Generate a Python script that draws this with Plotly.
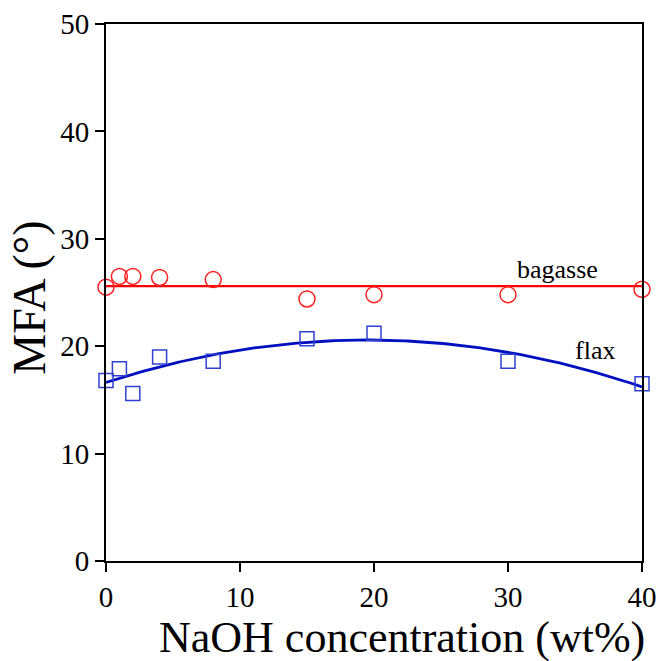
import numpy as np
import plotly.graph_objects as go

# NaOH concentration (wt%)
naoh = [0, 1, 2, 4, 8, 15, 20, 30, 40]

# Microfibril angle (degrees)
mfa_bagasse = [25.5, 26.5, 26.5, 26.4, 26.2, 24.4, 24.8, 24.8, 25.3]
mfa_flax = [16.8, 17.9, 15.6, 19.0, 18.6, 20.7, 21.2, 18.6, 16.5]

x_ticks = [0, 10, 20, 30, 40]
y_ticks = [0, 10, 20, 30, 40, 50]

# Trend lines: constant for bagasse, quadratic for flax
x_fit = np.linspace(0, 40, 200)
bag_fit = np.polyval(np.polyfit(naoh, mfa_bagasse, 0), x_fit)
flax_fit = np.polyval(np.polyfit(naoh, mfa_flax, 2), x_fit)

FONT = "Liberation Serif"

fig = go.Figure()

fig.add_trace(go.Scatter(x=x_fit, y=bag_fit, mode="lines",
                         line=dict(color="#ff0000", width=2.2),
                         showlegend=False, hoverinfo="skip", cliponaxis=False))
fig.add_trace(go.Scatter(x=x_fit, y=flax_fit, mode="lines",
                         line=dict(color="#0010c0", width=2.8),
                         showlegend=False, hoverinfo="skip", cliponaxis=False))
fig.add_trace(go.Scatter(x=naoh, y=mfa_bagasse, mode="markers", name="bagasse",
                         marker=dict(symbol="circle-open", size=16,
                                     color="#ff2020", line=dict(width=1.5)),
                         showlegend=False, cliponaxis=False))
fig.add_trace(go.Scatter(x=naoh, y=mfa_flax, mode="markers", name="flax",
                         marker=dict(symbol="square-open", size=14,
                                     color="#3040d0", line=dict(width=1.5)),
                         showlegend=False, cliponaxis=False))

# Series labels
fig.add_annotation(x=33.7, y=27.1, text="bagasse", showarrow=False,
                   font=dict(family=FONT, size=26, color="#000000"))
fig.add_annotation(x=36.5, y=19.6, text="flax", showarrow=False,
                   font=dict(family=FONT, size=26, color="#000000"))

# Axis titles
fig.add_annotation(xref="paper", yref="paper", x=0.552, y=-0.143,
                   xanchor="center", yanchor="middle", showarrow=False,
                   text="NaOH concentration (wt%)",
                   font=dict(family=FONT, size=44, color="#000000"))
fig.add_annotation(xref="paper", yref="paper", x=-0.142, y=0.49,
                   xanchor="center", yanchor="middle", showarrow=False,
                   textangle=-90, text="MFA (°)",
                   font=dict(family=FONT, size=46, color="#000000"))

axis_common = dict(showgrid=False, zeroline=False, showline=True,
                   linecolor="#000000", linewidth=2, mirror=True,
                   ticks="outside", ticklen=9, tickwidth=2, tickcolor="#000000",
                   automargin=False,
                   tickfont=dict(family=FONT, size=29, color="#000000"))

fig.update_xaxes(range=[0, 40], tickvals=x_ticks, **axis_common)
fig.update_yaxes(range=[0, 50], tickvals=y_ticks, **axis_common)

fig.update_layout(width=659, height=661,
                  margin=dict(l=106, r=17, t=24, b=100),
                  plot_bgcolor="#ffffff", paper_bgcolor="#ffffff")

fig.write_html("out.html")
